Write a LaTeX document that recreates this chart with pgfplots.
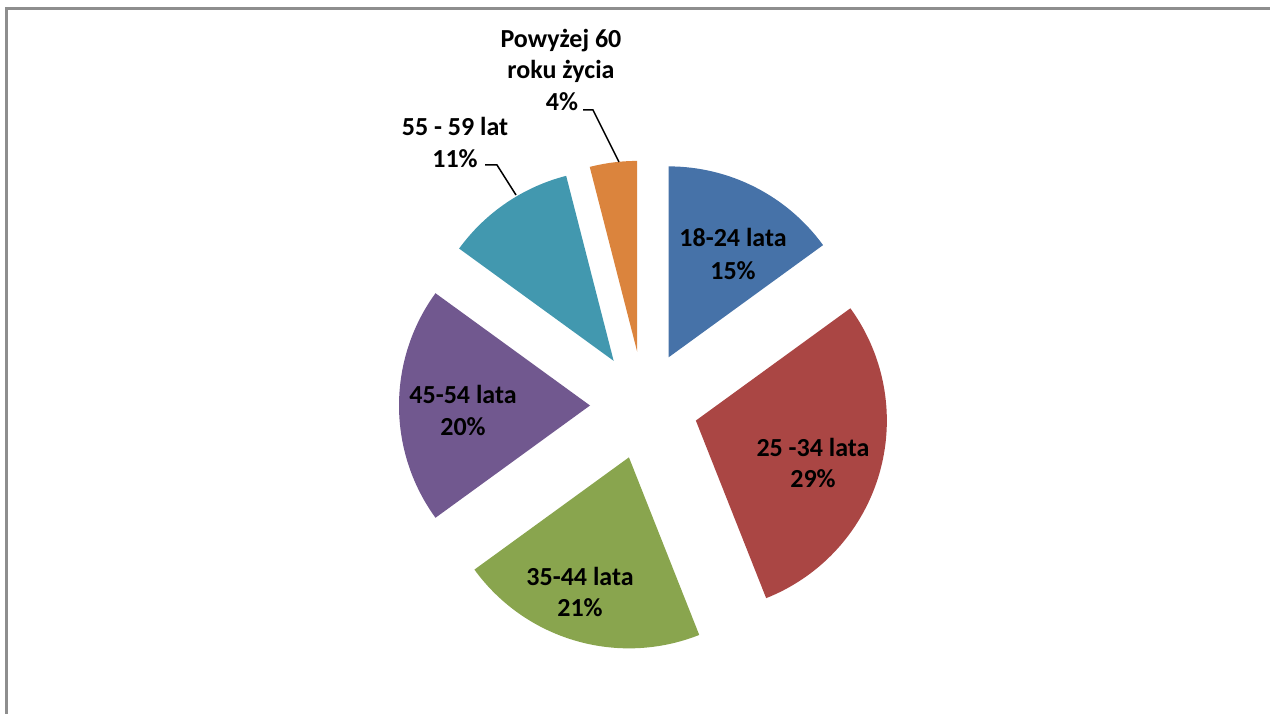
\documentclass[border=0pt]{standalone}
\usepackage{pgfplots}
\pgfplotsset{compat=1.18}
\usepackage{fontspec}
\setmainfont{Carlito}
\definecolor{cA}{HTML}{4672A8}
\definecolor{cB}{HTML}{AA4644}
\definecolor{cC}{HTML}{89A54E}
\definecolor{cD}{HTML}{71588F}
\definecolor{cE}{HTML}{4298AF}
\definecolor{cF}{HTML}{DB843D}
\definecolor{frame}{HTML}{8E8E8E}
% pie centre (px from left, px from bottom), radius, explosion
\def\cx{644}\def\cy{307.5}\def\R{191}\def\ex{54}
% #1 cumulative start (%), #2 share (%), #3 colour
\newcommand{\slice}[3]{%
  \pgfmathsetmacro{\aA}{90-3.6*#1}%
  \pgfmathsetmacro{\aB}{90-3.6*(#1+#2)}%
  \pgfmathsetmacro{\aM}{(\aA+\aB)/2}%
  \pgfmathsetmacro{\px}{\cx+\ex*cos(\aM)}%
  \pgfmathsetmacro{\py}{\cy+\ex*sin(\aM)}%
  \edef\temp{\noexpand\fill[#3] (axis cs:\px,\py) -- ++(\aA:\R pt) arc[start angle=\aA, end angle=\aB, radius=\R pt] -- cycle;}%
  \temp
}
\newcommand{\lab}[3]{\node[anchor=base,inner sep=0pt,font=\fontsize{26}{32}\selectfont\bfseries] at (axis cs:#1,#2) {#3};}
\begin{document}
\begin{tikzpicture}
\begin{axis}[x=1pt,y=1pt,xmin=0,xmax=1270,ymin=0,ymax=713,hide axis,clip=true]
\addplot[draw=none,forget plot] coordinates {(0,0)};
% shares: 15, 29, 21, 20, 11, 4 (%)
\slice{0}{15}{cA}
\slice{15}{29}{cB}
\slice{44}{21}{cC}
\slice{65}{20}{cD}
\slice{85}{11}{cE}
\slice{96}{4}{cF}
\draw[frame,line width=2.5pt] (axis cs:6.3,-20) -- (axis cs:6.3,704.7) -- (axis cs:1300,704.7);
\lab{733}{466}{18-24 lata}
\lab{733}{433}{15\%}
\lab{813}{256}{25 -34 lata}
\lab{813}{225}{29\%}
\lab{580}{128}{35-44 lata}
\lab{580}{96}{21\%}
\lab{463}{309}{45-54 lata}
\lab{463}{277}{20\%}
\lab{455}{577}{55 - 59 lat}
\lab{455}{545}{11\%}
\lab{561}{665}{Powyżej 60}
\lab{561}{634}{roku życia}
\lab{562}{602}{4\%}
\draw[black,line width=1.5pt] (axis cs:485,548) -- (axis cs:497,548) -- (axis cs:516,518);
\draw[black,line width=1.5pt] (axis cs:583,603) -- (axis cs:593,603) -- (axis cs:619,551);
\end{axis}
\pgfresetboundingbox
\path (0,0) rectangle (1270pt,713pt);
\end{tikzpicture}
\end{document}
